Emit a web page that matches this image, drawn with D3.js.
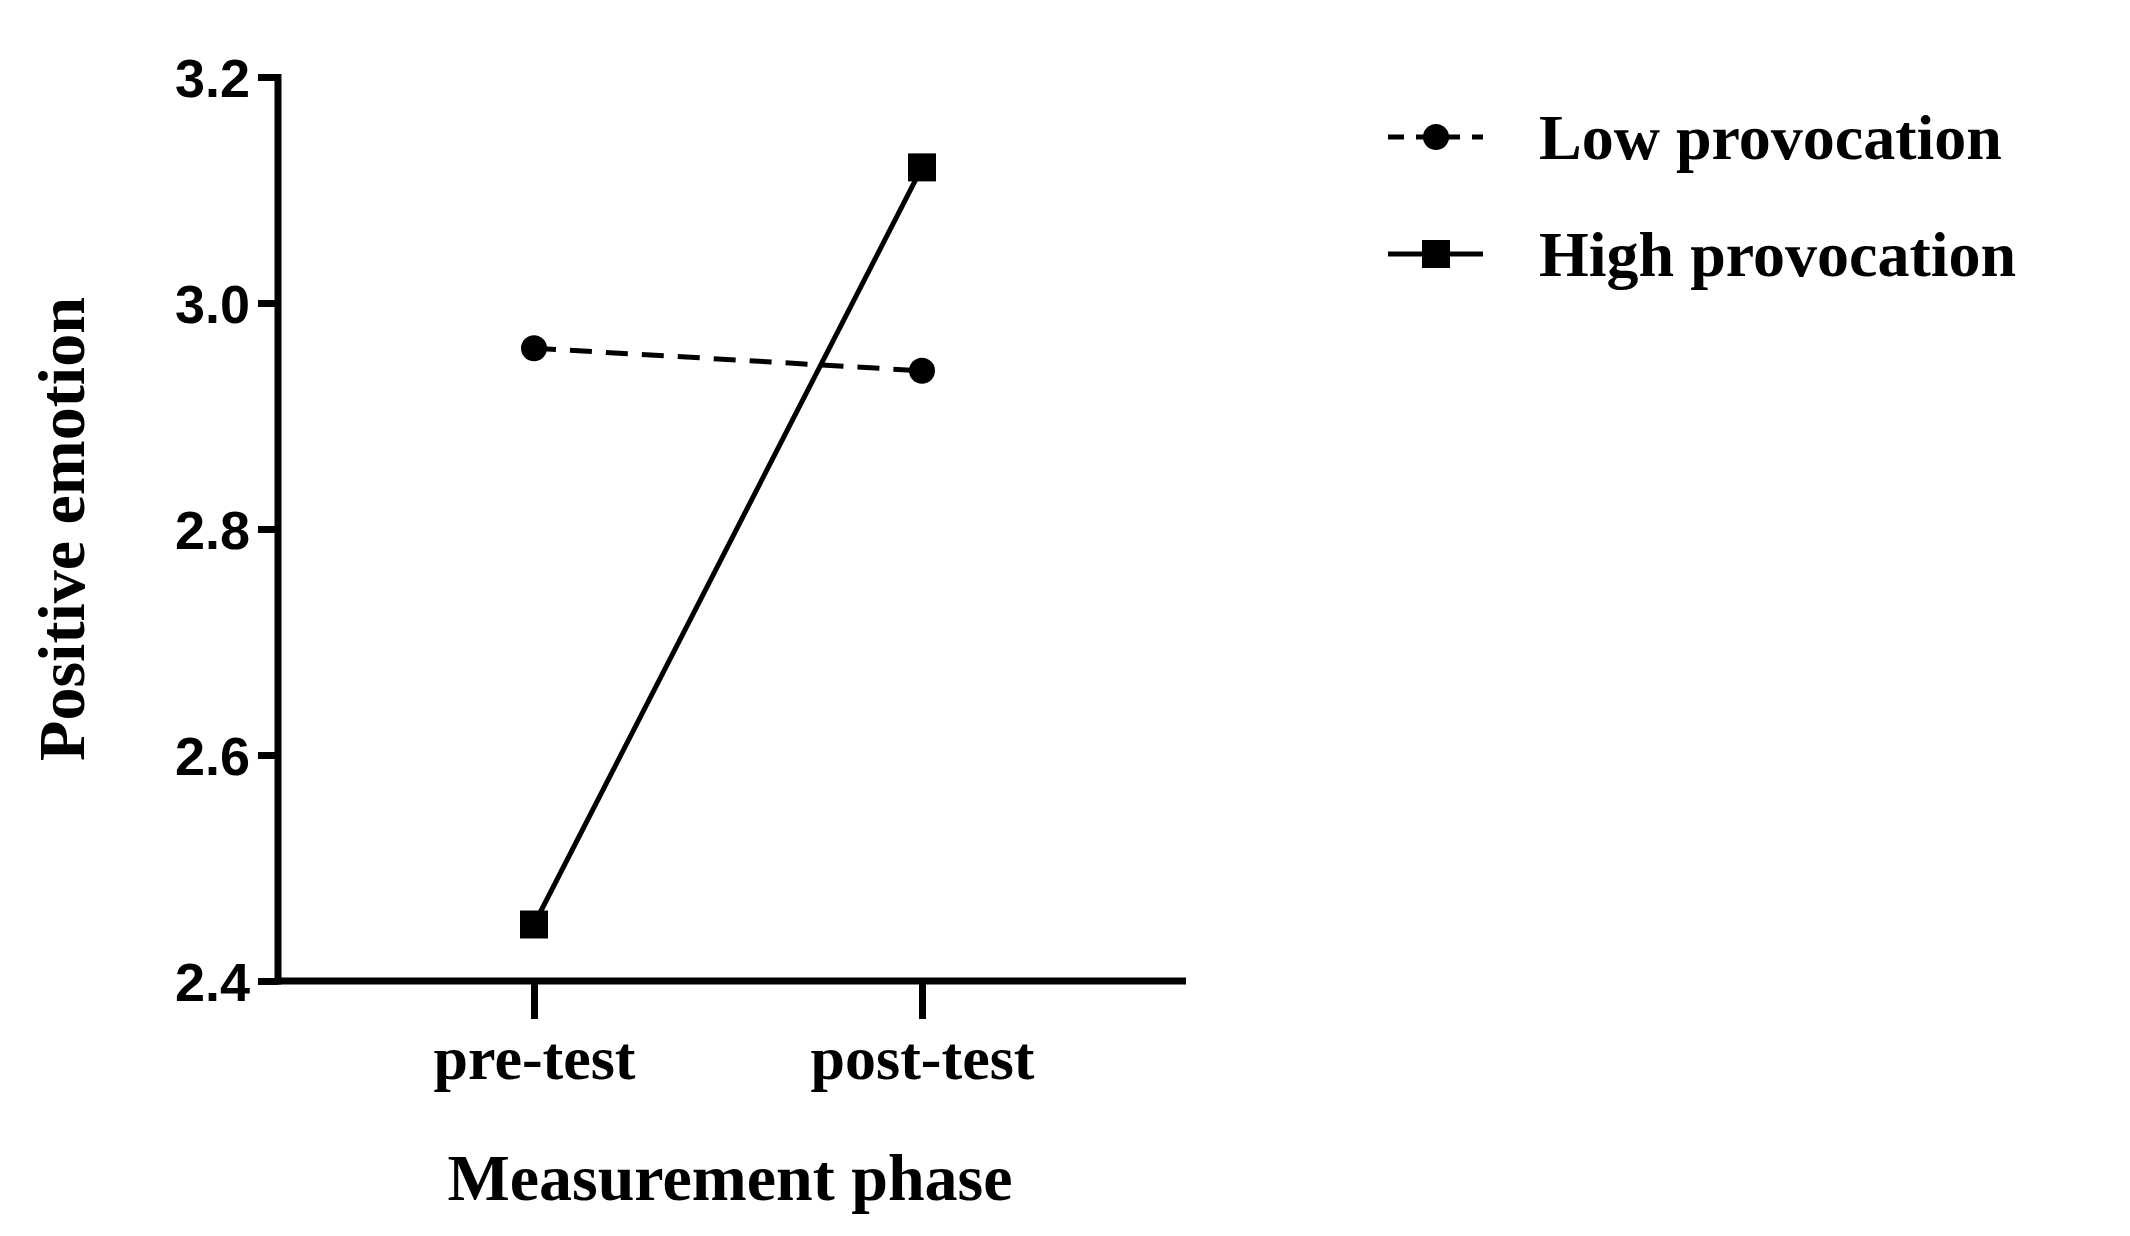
<!DOCTYPE html><html><head><meta charset="utf-8"><script src="https://cdn.jsdelivr.net/npm/d3@7"></script>
<style>body{margin:0;background:#fff}</style></head><body><svg id="c" width="2130" height="1236"></svg>
<script>
const phases=["pre-test","post-test"];
const lowValues=[2.96,2.94];
const highValues=[2.45,3.12];
const yTicks=[2.4,2.6,2.8,3.0,3.2];
const seriesNames=["Low provocation","High provocation"];
const svg=d3.select("#c");
const x=d3.scalePoint().domain(phases).range([534,922]);
const y=d3.scaleLinear().domain([2.4,3.2]).range([981,77]);
const sw=7;
// axes
const yAx=svg.append("g").attr("transform","translate(278,0)").call(d3.axisLeft(y).tickValues(yTicks).tickFormat(d3.format(".1f")).tickSize(20).tickPadding(8));
yAx.select(".domain").remove();
yAx.selectAll("line").attr("stroke","#000").attr("stroke-width",sw);
yAx.selectAll("text").attr("font-family","Liberation Sans, Arial").attr("font-weight","bold").attr("font-size",54).attr("fill","#000").attr("dy","0.36em");
const xAx=svg.append("g").attr("transform","translate(0,981)").call(d3.axisBottom(x).tickSize(38).tickPadding(16));
xAx.select(".domain").remove();
xAx.selectAll("line").attr("stroke","#000").attr("stroke-width",sw);
xAx.selectAll("text").attr("font-family","Liberation Serif, Times New Roman").attr("font-weight","bold").attr("font-size",62).attr("fill","#000");
svg.append("line").attr("x1",278).attr("x2",278).attr("y1",y(3.2)-3).attr("y2",981+3.5).attr("stroke","#000").attr("stroke-width",sw);
svg.append("line").attr("x1",278).attr("x2",1186).attr("y1",981).attr("y2",981).attr("stroke","#000").attr("stroke-width",sw);
svg.append("text").attr("x",730).attr("y",1200).attr("text-anchor","middle").attr("font-family","Liberation Serif, Times New Roman").attr("font-weight","bold").attr("font-size",66).text("Measurement phase");
svg.append("text").attr("transform","translate(84,529) rotate(-90)").attr("text-anchor","middle").attr("font-family","Liberation Serif, Times New Roman").attr("font-weight","bold").attr("font-size",66).text("Positive emotion");
const line=d3.line().x((d,i)=>x(phases[i])).y(d=>y(d));
svg.append("path").datum(lowValues).attr("d",line).attr("fill","none").attr("stroke","#000").attr("stroke-width",5).attr("stroke-dasharray","22,14");
svg.append("path").datum(highValues).attr("d",line).attr("fill","none").attr("stroke","#000").attr("stroke-width",5);
svg.selectAll(".lp").data(lowValues).enter().append("circle").attr("cx",(d,i)=>x(phases[i])).attr("cy",d=>y(d)).attr("r",13).attr("fill","#000");
svg.selectAll(".hp").data(highValues).enter().append("rect").attr("x",(d,i)=>x(phases[i])-14).attr("y",d=>y(d)-14).attr("width",28).attr("height",28).attr("fill","#000");
// legend
const lg=[137,254];
seriesNames.forEach((n,i)=>{
 svg.append("line").attr("x1",1388).attr("x2",1483).attr("y1",lg[i]).attr("y2",lg[i]).attr("stroke","#000").attr("stroke-width",5).attr("stroke-dasharray",i==0?"16,12":null);
 if(i==0)svg.append("circle").attr("cx",1436).attr("cy",lg[i]).attr("r",13);
 else svg.append("rect").attr("x",1422).attr("y",lg[i]-14).attr("width",28).attr("height",28);
 svg.append("text").attr("x",1539).attr("y",lg[i]).attr("dy","0.35em").attr("font-family","Liberation Serif, Times New Roman").attr("font-weight","bold").attr("font-size",64).text(n);
});
</script></body></html>
